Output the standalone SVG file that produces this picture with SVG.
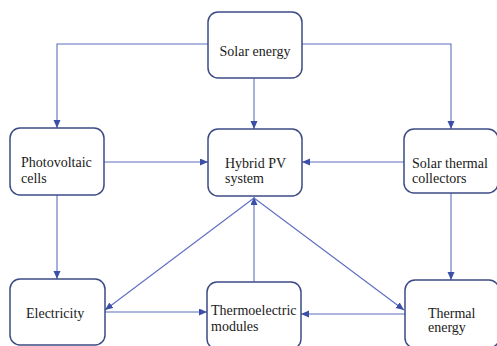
<svg xmlns="http://www.w3.org/2000/svg" width="497" height="346" viewBox="0 0 497 346">
<style>
.box{fill:#fff;stroke:#3d4b85;stroke-width:1.5}
.t{font-family:'Liberation Serif','Times New Roman',Times,serif;font-size:14px;fill:#1a1a1a}
.c{fill:none;stroke:#5b6fbf;stroke-width:1.1}
</style>
<defs>
<marker id="ah" markerUnits="userSpaceOnUse" markerWidth="9" markerHeight="8" refX="8" refY="3.5" orient="auto">
<path d="M0,0 L8,3.5 L0,7 z" fill="#3b4fa8"/>
</marker>
</defs>
<rect width="497" height="346" fill="#fff"/>
<g id="connectors">
<path class="c" d="M208,44 H57 V128" marker-end="url(#ah)"/>
<path class="c" d="M302,44 H451 V129" marker-end="url(#ah)"/>
<path class="c" d="M254,78 V129" marker-end="url(#ah)"/>
<path class="c" d="M104,162 H208" marker-end="url(#ah)"/>
<path class="c" d="M404,162 H302" marker-end="url(#ah)"/>
<path class="c" d="M57,195 V279" marker-end="url(#ah)"/>
<path class="c" d="M451,193 V280" marker-end="url(#ah)"/>
<path class="c" d="M254,282 V197" marker-end="url(#ah)"/>
<path class="c" d="M254,198 L105,310" marker-end="url(#ah)"/>
<path class="c" d="M254,198 L404,310" marker-end="url(#ah)"/>
<path class="c" d="M105,312 H207" marker-end="url(#ah)"/>
<path class="c" d="M405,314 H301" marker-end="url(#ah)"/>
</g>
<g id="solar-energy">
<rect class="box" x="208" y="12" width="94" height="66" rx="10"/>
<text class="t" x="255" y="56" text-anchor="middle" font-family="Liberation Serif">Solar energy</text>
</g>
<g id="photovoltaic-cells">
<rect class="box" x="10" y="128" width="94" height="67" rx="10"/>
<text class="t" x="21" y="167">Photovoltaic</text>
<text class="t" x="21" y="183">cells</text>
</g>
<g id="hybrid-pv">
<rect class="box" x="208" y="129" width="94" height="67" rx="10"/>
<text class="t" x="225" y="168">Hybrid PV</text>
<text class="t" x="225" y="183">system</text>
</g>
<g id="solar-thermal">
<rect class="box" x="404" y="129" width="94" height="64" rx="10"/>
<text class="t" x="412" y="168">Solar thermal</text>
<text class="t" x="412" y="183">collectors</text>
</g>
<g id="electricity">
<rect class="box" x="10" y="279" width="95" height="66" rx="10"/>
<text class="t" x="26" y="318">Electricity</text>
</g>
<g id="thermoelectric">
<rect class="box" x="207" y="282" width="94" height="67" rx="10"/>
<text class="t" x="211" y="315">Thermoelectric</text>
<text class="t" x="211" y="331">modules</text>
</g>
<g id="thermal-energy">
<rect class="box" x="405" y="280" width="94" height="68" rx="10"/>
<text class="t" x="428" y="318">Thermal</text>
<text class="t" x="428" y="332">energy</text>
</g>
</svg>
